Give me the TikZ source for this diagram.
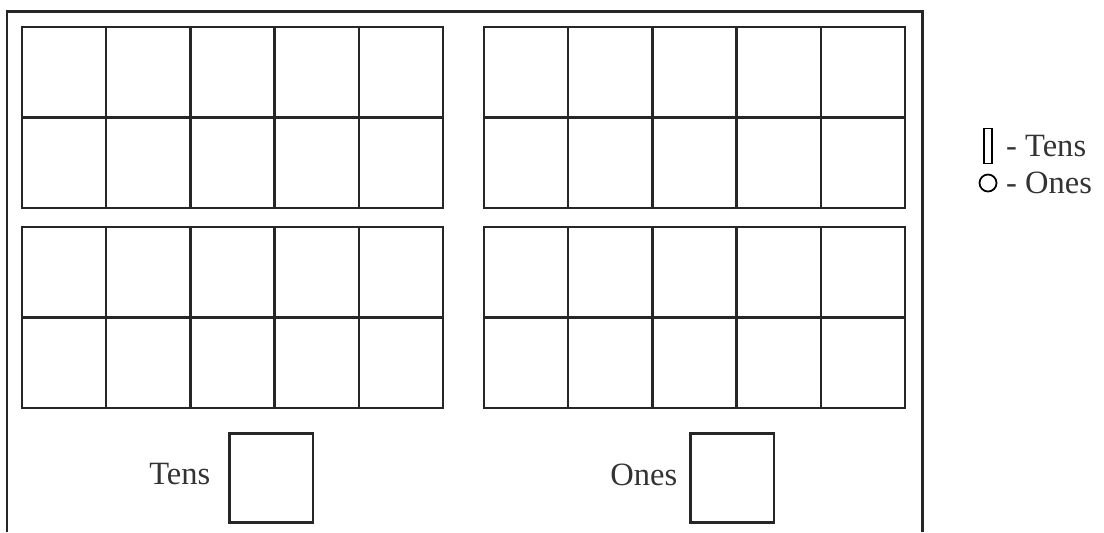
\documentclass[tikz,border=0pt]{standalone}
\usepackage{fontspec}
\setmainfont{Liberation Serif}
\usetikzlibrary{positioning}

\begin{document}
\begin{tikzpicture}[x=0.02cm, y=-0.02cm, line width=1.4pt, font=\fontsize{18.5}{20}\selectfont,
    border/.style={line width=1.7pt, black!85},
    answerbox/.style={draw, line width=1.7pt, black!85, minimum width=1.68cm, minimum height=1.78cm, inner sep=0pt},
    lbl/.style={inner sep=0pt, text=black!80}]
          \useasboundingbox (0,0) rectangle (1104,532);
          % outer frame, open at the bottom
          \draw[border] (7,532) -- (7,11) -- (922,11) -- (922,532);

          \def\cw{84.2}\def\rh{90.5}

          % four ten-frames
          \foreach \fx/\fy in {22/27, 484/27, 22/227, 484/227}{
              \draw[black!85] (\fx,\fy) rectangle ++(5*\cw,2*\rh);
              \draw[black!85] (\fx,\fy+\rh) -- ++(5*\cw,0);
              \foreach \c in {1,...,4}
                  \draw[black!85] (\fx+\c*\cw,\fy) -- ++(0,2*\rh);
          }

          \node[answerbox] (tensbox) at (271,478) {};
          \node[lbl, left=0.32cm of tensbox, yshift=2pt] (tenslbl) {Tens};
          \node[answerbox] (onesbox) at (732,478) {};
          \node[lbl, left=0.2cm of onesbox, yshift=2pt] (oneslbl) {Ones};

          % key
          \node[draw, line width=1pt, minimum width=0.17cm, minimum height=0.7cm, inner sep=0pt] (tenskey) at (988,146) {};
          \node[lbl, anchor=west] (tenskeylbl) at (1005,146) {- Tens};
          \node[draw, circle, line width=1pt, minimum size=0.34cm, inner sep=0pt] (oneskey) at (988,183) {};
          \node[lbl, anchor=west] (oneskeylbl) at (1005,183) {- Ones};
      \end{tikzpicture}
\end{document}
